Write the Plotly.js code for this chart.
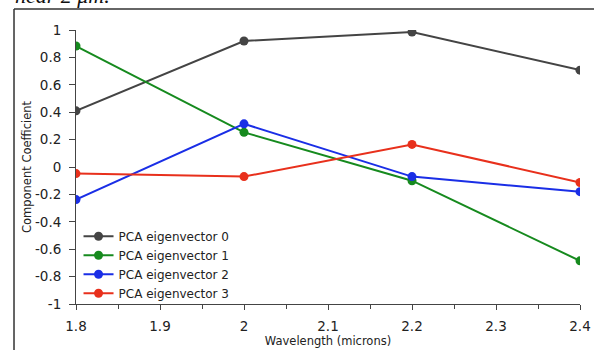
<!DOCTYPE html>
<html>
<head>
<meta charset="utf-8">
<script src="https://cdn.plot.ly/plotly-3.0.1.min.js"></script>
<style>html,body{margin:0;padding:0;background:#fff;}#chart{width:594px;height:350px;}</style>
</head>
<body>
<div id="chart"></div>
<script>
const wavelengths = [1.8, 2.0, 2.2, 2.4];
const eig0 = [0.41, 0.92, 0.985, 0.707];
const eig1 = [0.883, 0.253, -0.10, -0.685];
const eig2 = [-0.238, 0.315, -0.07, -0.18];
const eig3 = [-0.048, -0.07, 0.165, -0.113];
const seriesNames = ['PCA eigenvector 0', 'PCA eigenvector 1', 'PCA eigenvector 2', 'PCA eigenvector 3'];
const seriesColors = ['#444444', '#168a1e', '#1a2ee6', '#e8301c'];
const seriesData = [eig0, eig1, eig2, eig3];
const yTickVals = [-1, -0.8, -0.6, -0.4, -0.2, 0, 0.2, 0.4, 0.6, 0.8, 1];
const yTickText = ['-1', '-0.8', '-0.6', '-0.4', '-0.2', '0', '0.2', '0.4', '0.6', '0.8', '1'];

const traces = seriesData.map((d, i) => ({
  x: wavelengths, y: d, name: seriesNames[i], type: 'scatter', mode: 'lines+markers',
  line: {color: seriesColors[i], width: 2},
  marker: {color: seriesColors[i], size: 9}
}));

const fam = 'DejaVu Sans, Verdana, sans-serif';
const layout = {
  width: 594, height: 350,
  margin: {l: 76, r: 14, t: 30, b: 46},
  paper_bgcolor: '#fff', plot_bgcolor: '#fff',
  font: {family: fam, size: 11, color: '#222'},
  showlegend: true,
  legend: {x: 0.005, y: 0.3, xanchor: 'left', yanchor: 'top', bgcolor: 'rgba(0,0,0,0)',
           font: {family: fam, size: 12, color: '#222'}, tracegroupgap: 0},
  xaxis: {
    range: [1.8, 2.4], dtick: 0.1, tick0: 1.8, showgrid: false, zeroline: false,
    showline: true, linecolor: '#444', linewidth: 1, ticks: 'outside', ticklen: 5, tickcolor: '#444',
    tickformat: '.1~f', ticklabelstandoff: 5,
    minor: {dtick: 0.05, ticks: 'outside', ticklen: 4, tickcolor: '#444', showgrid: false},
    title: {text: 'Wavelength (microns)', font: {family: fam, size: 11.5, color: '#222'}, standoff: 1},
    tickfont: {family: fam, size: 13.5, color: '#222'}
  },
  yaxis: {
    range: [-1, 1], tickmode: 'array', tickvals: yTickVals, ticktext: yTickText,
    showgrid: false, zeroline: false, ticklabelstandoff: 5,
    showline: true, linecolor: '#444', linewidth: 1, ticks: 'outside', ticklen: 6, tickcolor: '#444',
    title: {text: 'Component Coefficient', font: {family: fam, size: 11.5, color: '#222'}, standoff: 0},
    tickfont: {family: fam, size: 13.5, color: '#222'}
  },
  shapes: [
    {type: 'line', xref: 'paper', yref: 'paper', x0: -0.123, x1: -0.123, y0: -0.2, y1: 1.0766, line: {color: '#333', width: 1.5}},
    {type: 'line', xref: 'paper', yref: 'paper', x0: -0.123, x1: 1.05, y0: 1.0766, y1: 1.0766, line: {color: '#333', width: 1.5}}
  ],
  annotations: [
    {text: 'near 2 μm.', xref: 'paper', yref: 'paper', x: -0.125, y: 1.073, xanchor: 'left', yanchor: 'bottom',
     showarrow: false, font: {family: 'Liberation Serif, serif', size: 22, color: '#111', style: 'italic'}}
  ]
};
Plotly.newPlot('chart', traces, layout, {displayModeBar: false, staticPlot: true});
</script>
</body>
</html>
